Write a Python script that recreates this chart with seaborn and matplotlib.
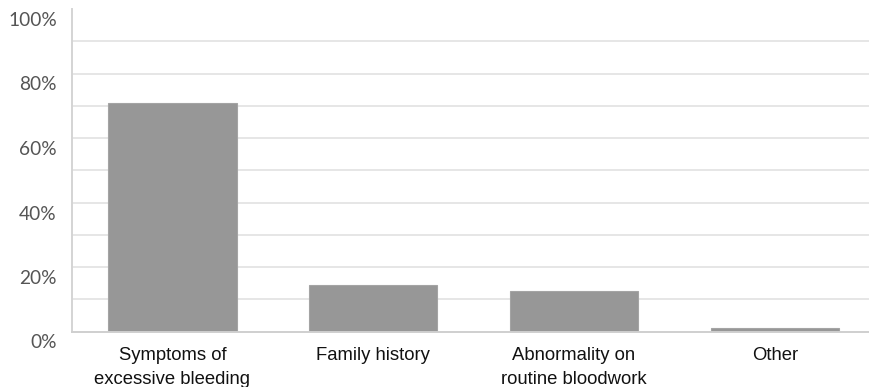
import matplotlib
matplotlib.use("Agg")
import matplotlib.pyplot as plt
from matplotlib.transforms import ScaledTranslation
from matplotlib.ticker import FixedLocator
import pandas as pd
import seaborn as sns

# How the diagnosis was first prompted (share of respondents, %)
categories = [
    "Symptoms of\nexcessive bleeding",
    "Family history",
    "Abnormality on\nroutine bloodwork",
    "Other",
]
shares = [70.8, 14.3, 12.7, 1.1]
y_ticks = [0, 20, 40, 60, 80, 100]
y_tick_labels = ["0%", "20%", "40%", "60%", "80%", "100%"]
y_minor = [10, 30, 50, 70, 90]

df = pd.DataFrame({"category": categories, "share": shares})

sns.set_theme(style="white")
plt.rcParams["font.family"] = ["Liberation Sans", "DejaVu Sans"]

fig = plt.figure(figsize=(8.69, 3.87), dpi=100)
ax = fig.add_axes([72 / 869, (387 - 331.5) / 387, 1 - 72 / 869, (331.5 - 9) / 387])

sns.barplot(data=df, x="category", y="share", color="#979797",
            saturation=1, width=0.64, ax=ax, edgecolor="#a4a4a4", linewidth=0.8)

ax.set_xlim(-0.5, 3.469)
ax.set_ylim(0, 100)
ax.set_xlabel("")
ax.set_ylabel("")

ax.yaxis.set_major_locator(FixedLocator(y_ticks))
ax.set_yticklabels(y_tick_labels)
ax.yaxis.set_minor_locator(FixedLocator(y_minor))

ax.grid(True, axis="y", which="both", color="#e6e6e6", linewidth=1.4)
ax.set_axisbelow(True)
for tick in ax.yaxis.get_major_ticks():
    if tick.get_loc() in (0, 100):
        tick.gridline.set_visible(False)

for side in ("top", "right"):
    ax.spines[side].set_visible(False)
ax.spines["left"].set_color("#d4d4d4")
ax.spines["left"].set_linewidth(1.4)
ax.spines["bottom"].set_color("#cfcfcf")
ax.spines["bottom"].set_linewidth(1.4)

ax.tick_params(axis="both", which="both", length=0)
ax.tick_params(axis="y", pad=11)
ax.tick_params(axis="x", pad=11.5)

shift = ScaledTranslation(0, -0.10, fig.dpi_scale_trans)
for lab in ax.get_yticklabels():
    lab.set_fontfamily(["Lato", "DejaVu Sans"])
    lab.set_fontsize(13.8)
    lab.set_color("#555555")
    lab.set_transform(lab.get_transform() + shift)

for lab in ax.get_xticklabels():
    lab.set_fontsize(13.3)
    lab.set_color("#111111")
    lab.set_linespacing(1.5)

fig.savefig("out.png", dpi=100, facecolor="white")
